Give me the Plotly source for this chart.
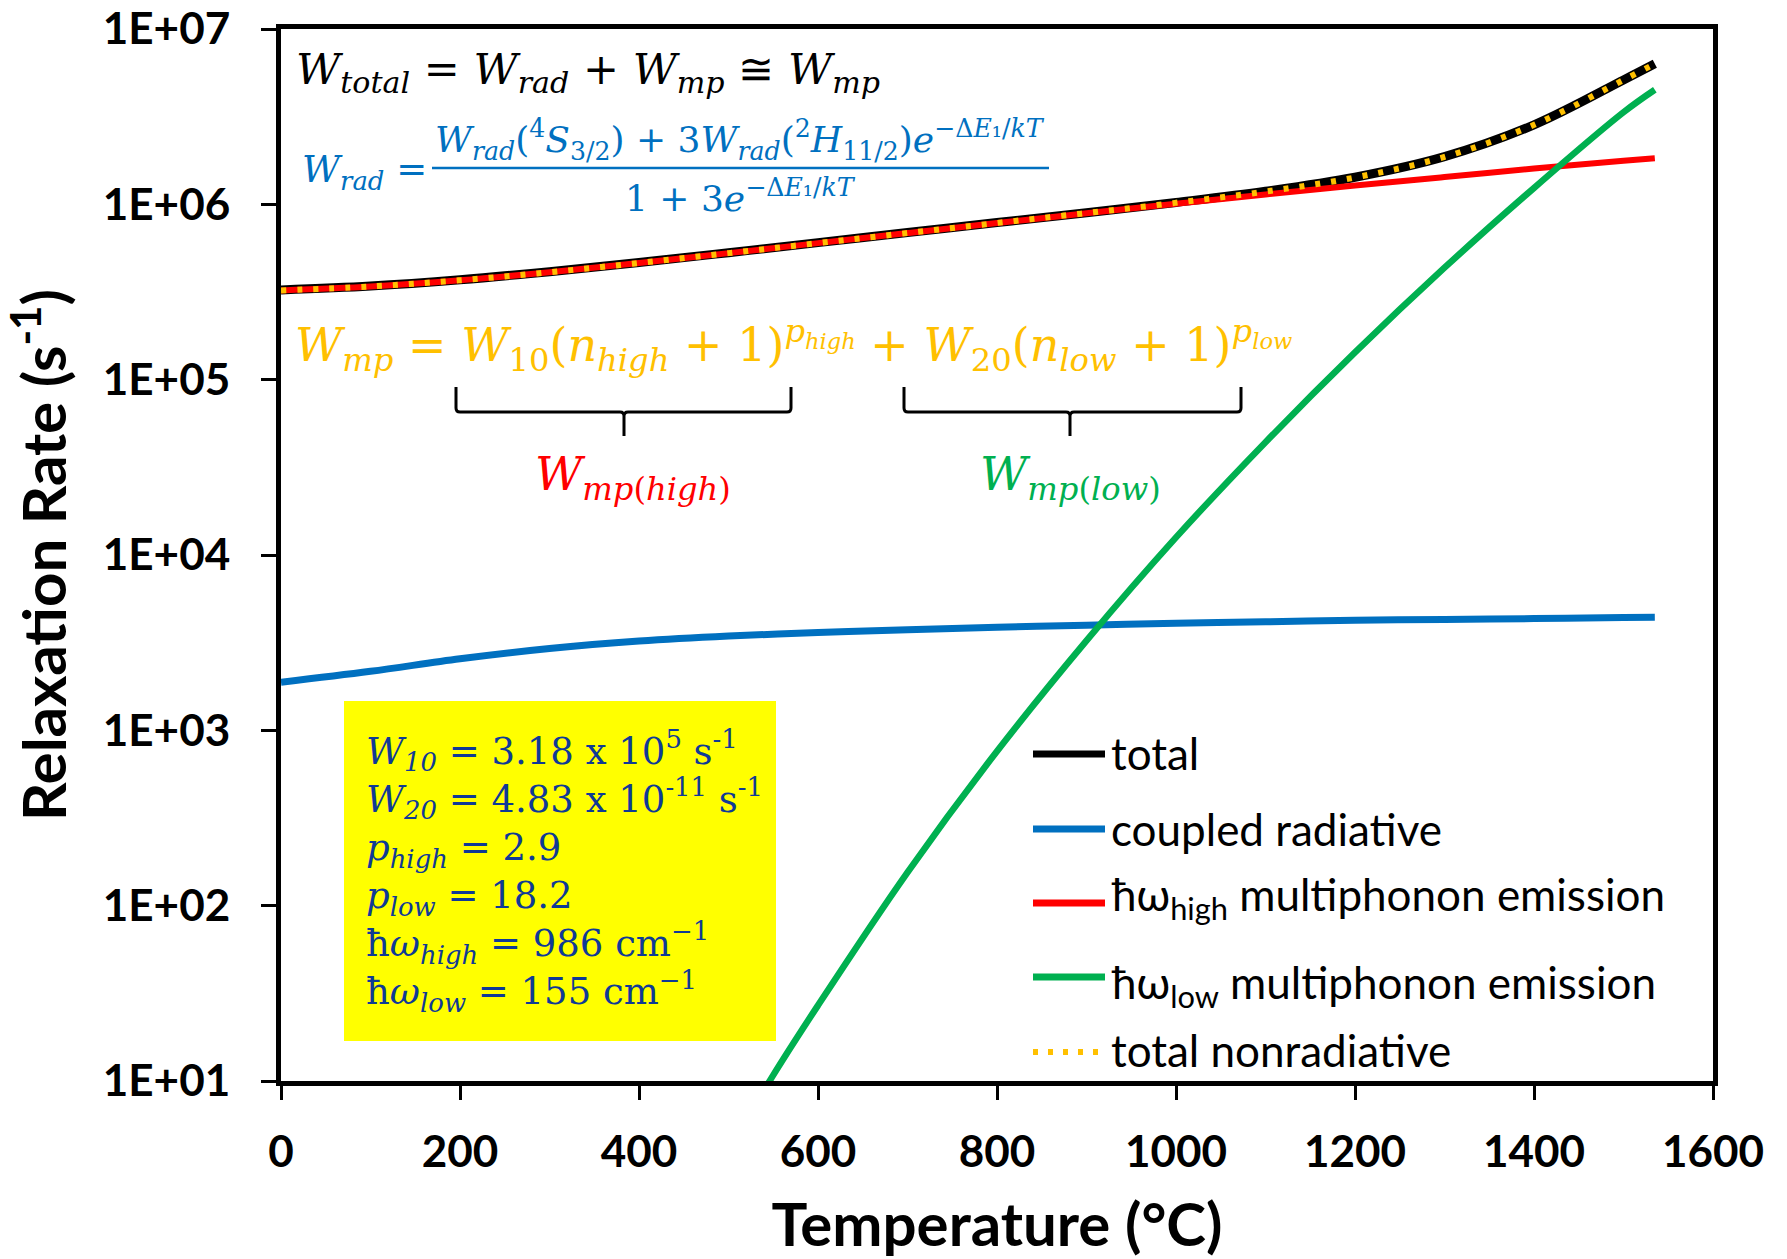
import plotly.graph_objects as go

# ---------------- data ----------------
temps = [0, 100, 200, 300, 400, 500, 600, 700, 800, 900, 1000, 1100, 1200, 1300, 1400, 1500, 1535]
w_total = [3.25e5, 3.42e5, 3.715e5, 4.13e5, 4.66e5, 5.30e5, 6.05e5, 6.90e5, 7.87e5, 8.96e5,
           1.025e6, 1.187e6, 1.427e6, 1.87e6, 2.84e6, 5.12e6, 6.33e6]
w_rad = [1880, 2170, 2560, 2930, 3230, 3450, 3610, 3750, 3870, 3980, 4080, 4160, 4240, 4290, 4340, 4400, 4420]
w_high = [3.23e5, 3.40e5, 3.69e5, 4.10e5, 4.63e5, 5.27e5, 6.01e5, 6.86e5, 7.82e5, 8.89e5,
          1.008e6, 1.139e6, 1.28e6, 1.43e6, 1.60e6, 1.77e6, 1.83e6]
w_nonrad = [3.23e5, 3.40e5, 3.69e5, 4.10e5, 4.63e5, 5.27e5, 6.01e5, 6.86e5, 7.83e5, 8.92e5,
            1.021e6, 1.183e6, 1.423e6, 1.865e6, 2.84e6, 5.12e6, 6.33e6]
temps_low = [500, 550, 600, 700, 800, 900, 1000, 1100, 1200, 1300, 1400, 1500, 1535]
w_low = [4.0, 10.8, 27, 155, 760, 3250, 1.26e4, 4.4e4, 1.43e5, 4.35e5, 1.24e6, 3.35e6, 4.5e6]

x_ticks = [0, 200, 400, 600, 800, 1000, 1200, 1400, 1600]
y_ticks = [1e1, 1e2, 1e3, 1e4, 1e5, 1e6, 1e7]
y_ticktext = ["1E+01", "1E+02", "1E+03", "1E+04", "1E+05", "1E+06", "1E+07"]

legend_labels = ["total", "coupled radiative", "ħω<sub>high</sub> multiphonon emission",
                 "ħω<sub>low</sub> multiphonon emission", "total nonradiative"]

BLACK, BLUE, RED, GREEN, ORANGE, NAVY = "#000000", "#0070C0", "#FF0000", "#00B050", "#FFC000", "#0F3A96"

# ---------------- layout geometry ----------------
W, H = 1787, 1259
L, R, T, B = 281, 1713, 29, 1081


def X(px):
    return (px - L) / (R - L)


def Y(py):
    return (B - py) / (B - T)


fig = go.Figure()
fig.add_trace(go.Scatter(x=temps, y=w_total, mode="lines", name="total",
                         line=dict(color=BLACK, width=9, shape="spline")))
fig.add_trace(go.Scatter(x=temps, y=w_rad, mode="lines", name="coupled radiative",
                         line=dict(color=BLUE, width=7, shape="spline")))
fig.add_trace(go.Scatter(x=temps, y=w_high, mode="lines", name="ħω high multiphonon emission",
                         line=dict(color=RED, width=6, shape="spline")))
fig.add_trace(go.Scatter(x=temps_low, y=w_low, mode="lines", name="ħω low multiphonon emission",
                         line=dict(color=GREEN, width=6.5, shape="spline")))
fig.add_trace(go.Scatter(x=temps, y=w_nonrad, mode="lines", name="total nonradiative",
                         line=dict(color=ORANGE, width=6, shape="spline", dash="5px,11px")))

MATH = "DejaVu Serif"
annotations = []
shapes = []

# black equation
annotations.append(dict(
    x=X(294), y=Y(72), xref="paper", yref="paper", xanchor="left", yanchor="middle", showarrow=False,
    text="<i>W</i><sub><i>total</i></sub> = <i>W</i><sub><i>rad</i></sub> + <i>W</i><sub><i>mp</i></sub> ≅ <i>W</i><sub><i>mp</i></sub>",
    font=dict(family=MATH, size=43, color=BLACK)))

# blue equation
annotations.append(dict(
    x=X(300), y=Y(172), xref="paper", yref="paper", xanchor="left", yanchor="middle", showarrow=False,
    text="<i>W</i><sub><i>rad</i></sub> =", font=dict(family=MATH, size=37, color=BLUE)))
annotations.append(dict(
    x=X(740), y=Y(140), xref="paper", yref="paper", xanchor="center", yanchor="middle", showarrow=False,
    text="<i>W</i><sub><i>rad</i></sub>(<sup>4</sup><i>S</i><sub>3/2</sub>) + 3<i>W</i><sub><i>rad</i></sub>(<sup>2</sup><i>H</i><sub>11/2</sub>)<i>e</i><sup>−Δ<i>E</i>₁/<i>kT</i></sup>",
    font=dict(family=MATH, size=36, color=BLUE)))
annotations.append(dict(
    x=X(740), y=Y(196), xref="paper", yref="paper", xanchor="center", yanchor="middle", showarrow=False,
    text="1 + 3<i>e</i><sup>−Δ<i>E</i>₁/<i>kT</i></sup>",
    font=dict(family=MATH, size=36, color=BLUE)))
shapes.append(dict(type="line", xref="paper", yref="paper", x0=X(432), x1=X(1049), y0=Y(168), y1=Y(168),
                   line=dict(color=BLUE, width=2.5)))

# orange equation
annotations.append(dict(
    x=X(293), y=Y(345), xref="paper", yref="paper", xanchor="left", yanchor="middle", showarrow=False,
    text="<i>W</i><sub><i>mp</i></sub> = <i>W</i><sub>10</sub>(<i>n</i><sub><i>high</i></sub> + 1)<sup><i>p</i><sub><i>high</i></sub></sup> + <i>W</i><sub>20</sub>(<i>n</i><sub><i>low</i></sub> + 1)<sup><i>p</i><sub><i>low</i></sub></sup>",
    font=dict(family=MATH, size=46, color=ORANGE)))


def brace(x0, x1, xm, ytop, yline, ybot):
    pts = (f"M {X(x0)},{Y(ytop)} L {X(x0)},{Y(yline - 4)} Q {X(x0)},{Y(yline)} {X(x0 + 4)},{Y(yline)} "
           f"L {X(xm - 4)},{Y(yline)} Q {X(xm)},{Y(yline)} {X(xm)},{Y(yline + 4)} L {X(xm)},{Y(ybot)} "
           f"M {X(xm)},{Y(yline + 4)} Q {X(xm)},{Y(yline)} {X(xm + 4)},{Y(yline)} "
           f"L {X(x1 - 4)},{Y(yline)} Q {X(x1)},{Y(yline)} {X(x1)},{Y(yline - 4)} L {X(x1)},{Y(ytop)}")
    return dict(type="path", xref="paper", yref="paper", path=pts, line=dict(color=BLACK, width=3))


shapes.append(brace(456, 791, 624, 387, 412, 436))
shapes.append(brace(904, 1241, 1070, 387, 412, 436))

annotations.append(dict(
    x=X(633), y=Y(477), xref="paper", yref="paper", xanchor="center", yanchor="middle", showarrow=False,
    text="<i>W</i><sub><i>mp</i>(<i>high</i>)</sub>", font=dict(family=MATH, size=46, color=RED)))
annotations.append(dict(
    x=X(1070), y=Y(477), xref="paper", yref="paper", xanchor="center", yanchor="middle", showarrow=False,
    text="<i>W</i><sub><i>mp</i>(<i>low</i>)</sub>", font=dict(family=MATH, size=46, color=GREEN)))

# yellow parameter box
shapes.append(dict(type="rect", xref="paper", yref="paper", x0=X(344), x1=X(776), y0=Y(1041), y1=Y(701),
                   fillcolor="#FFFF00", line=dict(width=0), layer="below"))
box_text = ("<i>W</i><sub><i>10</i></sub> = 3.18 x 10<sup>5</sup> s<sup>-1</sup><br>"
            "<i>W</i><sub><i>20</i></sub> = 4.83 x 10<sup>-11</sup> s<sup>-1</sup><br>"
            "<i>p</i><sub><i>high</i></sub> = 2.9<br>"
            "<i>p</i><sub><i>low</i></sub> = 18.2<br>"
            "ħ<i>ω</i><sub><i>high</i></sub> = 986 cm<sup>−1</sup><br>"
            "ħ<i>ω</i><sub><i>low</i></sub> = 155 cm<sup>−1</sup>")
annotations.append(dict(
    x=X(364), y=Y(871), xref="paper", yref="paper", xanchor="left", yanchor="middle", align="left",
    showarrow=False, text=box_text, font=dict(family=MATH, size=37, color=NAVY)))

# legend (drawn by hand to match the spacing of the reference)
legend_y = [754, 829, 903, 977, 1052]
legend_text_y = [753, 829, 897, 985, 1050]
legend_styles = [(BLACK, 7, "solid"), (BLUE, 7, "solid"), (RED, 7, "solid"), (GREEN, 7, "solid"),
                 (ORANGE, 6, "5px,10px")]
for lab, ly, ty, (col, lw, dash) in zip(legend_labels, legend_y, legend_text_y, legend_styles):
    shapes.append(dict(type="line", xref="paper", yref="paper", x0=X(1033), x1=X(1105), y0=Y(ly), y1=Y(ly),
                       line=dict(color=col, width=lw, dash=dash)))
    annotations.append(dict(
        x=X(1109), y=Y(ty), xref="paper", yref="paper", xanchor="left", yanchor="middle", showarrow=False,
        text=lab, font=dict(family="Lato", size=44, color=BLACK)))

fig.update_layout(
    width=W, height=H,
    margin=dict(l=L, r=W - R, t=T, b=H - B, autoexpand=False),
    paper_bgcolor="white", plot_bgcolor="white",
    showlegend=False,
    annotations=annotations, shapes=shapes,
    xaxis=dict(range=[-0.001, 1600.001], tickvals=x_ticks, showgrid=False, zeroline=False,
               showline=True, linewidth=5, linecolor=BLACK, mirror=True, automargin=False,
               ticks="outside", ticklen=14, tickwidth=3, tickcolor=BLACK, ticklabelstandoff=14,
               ticklabeloverflow="allow",
               tickfont=dict(family="Lato", size=44, color=BLACK, weight="bold"),
               title=dict(text="Temperature (°C)", standoff=34,
                          font=dict(family="Lato", size=60, color=BLACK, weight="bold"))),
    yaxis=dict(type="log", range=[0.99999, 7.00001], tickvals=y_ticks, ticktext=y_ticktext, showgrid=False,
               zeroline=False, showline=True, linewidth=5, linecolor=BLACK, mirror=True, automargin=False,
               ticks="outside", ticklen=15, tickwidth=3, tickcolor=BLACK, ticklabelstandoff=22,
               ticklabeloverflow="allow",
               tickfont=dict(family="Lato", size=44, color=BLACK, weight="bold"),
               title=dict(text="Relaxation Rate (s<sup>-1</sup>)", standoff=24,
                          font=dict(family="Lato", size=60, color=BLACK, weight="bold"))),
)

fig.write_html("out.html")
